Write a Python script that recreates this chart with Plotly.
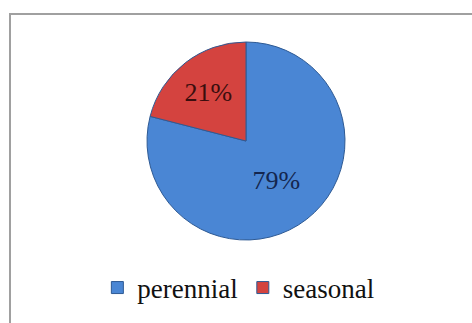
import plotly.graph_objects as go

# Share of perennial vs seasonal
categories = ["perennial", "seasonal"]
shares = [79, 21]
slice_colors = ["#4A86D4", "#D4433F"]
label_colors = ["#14264F", "#3A0E0E"]

W, H = 472, 323

fig = go.Figure(
    go.Pie(
        labels=categories,
        values=shares,
        sort=False,
        direction="clockwise",
        rotation=0,
        marker=dict(colors=slice_colors, line=dict(color="#2E5A94", width=1)),
        textinfo="percent",
        texttemplate="%{percent:.0%}",
        textposition="inside",
        insidetextorientation="horizontal",
        textfont=dict(family="Liberation Serif", size=26, color=label_colors),
        domain=dict(x=[147 / W, 345 / W], y=[1 - 240 / H, 1 - 42 / H]),
        hoverinfo="label+percent",
    )
)

fig.update_layout(
    width=W,
    height=H,
    margin=dict(l=0, r=0, t=0, b=0),
    paper_bgcolor="white",
    plot_bgcolor="white",
    showlegend=True,
    legend=dict(
        orientation="h",
        x=0.505,
        xanchor="center",
        y=1 - 288 / H,
        yanchor="middle",
        font=dict(family="Liberation Serif", size=27, color="#111111"),
        itemwidth=30,
        tracegroupgap=0,
    ),
    shapes=[
        dict(
            type="rect",
            xref="paper",
            yref="paper",
            x0=10 / W,
            x1=1.05,
            y0=-0.05,
            y1=1 - 14 / H,
            line=dict(color="#A0A0A0", width=2),
            fillcolor="rgba(0,0,0,0)",
        )
    ],
)

fig.write_html("out.html")
